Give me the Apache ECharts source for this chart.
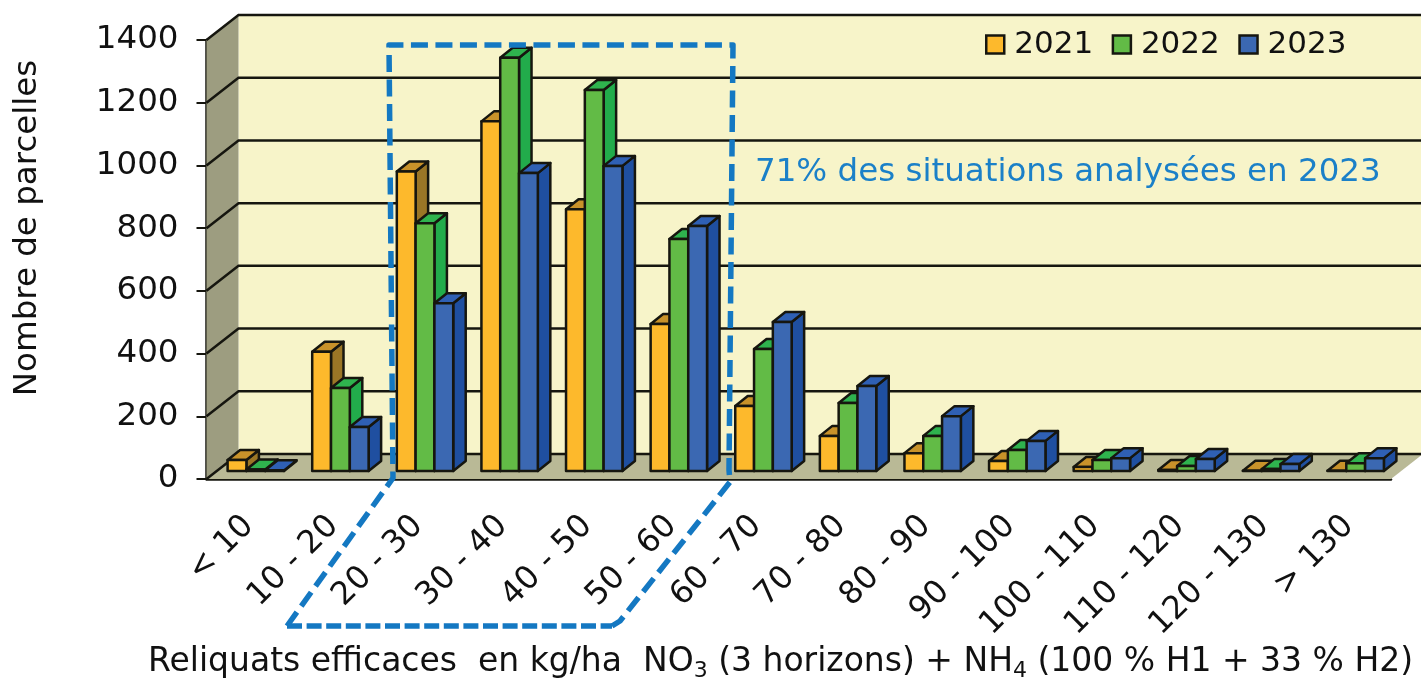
<!DOCTYPE html>
<html>
<head>
<meta charset="utf-8">
<title>Reliquats efficaces</title>
<script src="https://cdn.jsdelivr.net/npm/echarts@6/dist/echarts.min.js"></script>
<style>
  html, body { margin: 0; padding: 0; background: #fff; }
  #chart { width: 1421px; height: 679px; }
</style>
</head>
<body>
<div id="chart"></div>
<script>
const categories = ['< 10', '10 - 20', '20 - 30', '30 - 40', '40 - 50', '50 - 60', '60 - 70',
  '70 - 80', '80 - 90', '90 - 100', '100 - 110', '110 - 120', '120 - 130', '> 130']
const values2021 = [35, 380, 955, 1115, 835, 469, 207, 112, 57, 32, 13, 3, 1, 1]
const values2022 = [5, 265, 790, 1318, 1215, 740, 389, 217, 112, 67, 35, 16, 6, 25]
const values2023 = [2, 140, 535, 950, 973, 781, 475, 271, 175, 96, 41, 38, 22, 41]
const yTicks = [0, 200, 400, 600, 800, 1000, 1200, 1400]

const FONT = '"DejaVu Sans"'
const INK = '#16160f'
const STROKE = 2.5
const BLUE = '#1478c2'
// profondeur de la "3D" : mur du fond et barres
const WALL_DX = 32
const WALL_DY = -25
const BAR_W = 18.8
const BAR_DX = 12.5
const BAR_DY = -10
const BASE_DX = 7
const BASE_DY = -8

function poly(points, fill) {
  return {
    type: 'polygon',
    shape: { points },
    style: { fill, stroke: INK, lineWidth: STROKE, lineJoin: 'round' }
  }
}

function renderWall(params, api) {
  const rect = params.coordSys
  const y = api.coord([0, api.value(1)])[1]
  const left = rect.x
  const right = rect.x + rect.width
  const children = []
  if (params.dataIndex === 0) {
    const top = rect.y
    const bottom = rect.y + rect.height
    children.push({
      type: 'polygon',
      shape: { points: [[left + WALL_DX, top + WALL_DY], [right + WALL_DX, top + WALL_DY], [right + WALL_DX, bottom + WALL_DY], [left + WALL_DX, bottom + WALL_DY]] },
      style: { fill: '#f7f4c9' }
    })
    children.push({
      type: 'polygon',
      shape: { points: [[left, top], [left + WALL_DX, top + WALL_DY], [left + WALL_DX, bottom + WALL_DY], [left, bottom]] },
      style: { fill: '#9d9d80' }
    })
    children.push({
      type: 'polygon',
      shape: { points: [[left, bottom], [left + WALL_DX, bottom + WALL_DY], [right + WALL_DX, bottom + WALL_DY], [right, bottom]] },
      style: { fill: '#b9b996' }
    })
  }
  children.push({
    type: 'polyline',
    shape: { points: [[left, y], [left + WALL_DX, y + WALL_DY], [right + WALL_DX, y + WALL_DY]] },
    style: { stroke: INK, lineWidth: STROKE, fill: null }
  })
  return { type: 'group', children }
}

function makeBarRenderer(index, front, top, side) {
  return function (params, api) {
    const cat = api.value(0)
    const base = api.coord([cat, 0])
    const head = api.coord([cat, api.value(1)])
    const x0 = base[0] - 1.5 * BAR_W + index * BAR_W + BASE_DX
    const x1 = x0 + BAR_W
    const yb = base[1] + BASE_DY
    const yt = head[1] + BASE_DY
    return {
      type: 'group',
      children: [
        poly([[x1, yb], [x1 + BAR_DX, yb + BAR_DY], [x1 + BAR_DX, yt + BAR_DY], [x1, yt]], side),
        poly([[x0, yt], [x0 + BAR_DX, yt + BAR_DY], [x1 + BAR_DX, yt + BAR_DY], [x1, yt]], top),
        poly([[x0, yb], [x1, yb], [x1, yt], [x0, yt]], front)
      ]
    }
  }
}

function yearSeries(name, values, index, front, top, side) {
  return {
    name,
    type: 'custom',
    coordinateSystem: 'cartesian2d',
    renderItem: makeBarRenderer(index, front, top, side),
    encode: { x: 0, y: 1 },
    itemStyle: { color: front },
    data: values.map((v, i) => [i, v]),
    z: 3
  }
}

const chart = echarts.init(document.getElementById('chart'))
chart.setOption({
  animation: false,
  backgroundColor: '#fff',
  textStyle: { fontFamily: FONT },
  grid: { left: 206.5, right: 30, top: 40, bottom: 200, outerBoundsMode: 'none' },
  legend: {
    data: ['2021', '2022', '2023'],
    left: 980,
    top: 24,
    icon: 'rect',
    itemWidth: 18,
    itemHeight: 18,
    itemGap: 18.5,
    itemStyle: { borderColor: INK, borderWidth: 2.5 },
    textStyle: { fontFamily: FONT, fontSize: 31, color: '#111', padding: [0, 0, 0, 5] }
  },
  xAxis: {
    type: 'category',
    data: categories,
    axisLine: { lineStyle: { color: INK, width: STROKE } },
    axisTick: { length: 11, lineStyle: { color: INK, width: 2 } },
    axisLabel: { rotate: 45, interval: 0, fontFamily: FONT, fontSize: 32, color: '#111', margin: 42 }
  },
  yAxis: {
    type: 'value',
    min: 0,
    max: 1400,
    interval: 200,
    splitLine: { show: false },
    axisLine: { show: true, lineStyle: { color: INK, width: STROKE } },
    axisTick: { show: true, length: 10, lineStyle: { color: INK, width: 2 } },
    axisLabel: { fontFamily: FONT, fontSize: 32.5, color: '#111', margin: 28, padding: [8, 0, 0, 0], formatter: v => String(v) }
  },
  series: [
    {
      name: 'murs',
      type: 'custom',
      coordinateSystem: 'cartesian2d',
      renderItem: renderWall,
      encode: { x: 0, y: 1 },
      silent: true,
      data: yTicks.map(t => [0, t]),
      z: 1
    },
    yearSeries('2021', values2021, 0, '#fdb92c', '#c8922a', '#9a7626'),
    yearSeries('2022', values2022, 1, '#62bb46', '#2fb34e', '#22ac4b'),
    yearSeries('2023', values2023, 2, '#3b68b2', '#2f60b4', '#1f4fa0')
  ],
  graphic: [
    {
      type: 'polyline',
      z: 100,
      silent: true,
      shape: { points: [[287, 626], [393, 478], [389, 45], [733, 45], [729, 470], [730, 482], [620, 621], [612, 626]] },
      style: { stroke: BLUE, lineWidth: 5.5, lineDash: [17, 7.5], fill: null, lineJoin: 'round' }
    },
    {
      type: 'line',
      z: 100,
      silent: true,
      shape: { x1: 287, y1: 626, x2: 612, y2: 626 },
      style: { stroke: BLUE, lineWidth: 5.5, lineDash: [15, 4.6] }
    },
    {
      type: 'text',
      z: 100,
      silent: true,
      x: 755,
      y: 173,
      style: { text: '71% des situations analysées en 2023', fontFamily: FONT, fontSize: 32.5, fill: '#1b80c8', verticalAlign: 'middle' }
    },
    {
      type: 'text',
      z: 100,
      silent: true,
      x: 28,
      y: 228,
      rotation: Math.PI / 2,
      style: { text: 'Nombre de parcelles', fontFamily: FONT, fontSize: 32.5, fill: '#111', align: 'center', verticalAlign: 'middle' }
    },
    {
      type: 'text',
      z: 100,
      silent: true,
      x: 148,
      y: 662,
      style: {
        text: '{m|Reliquats efficaces  en kg/ha  NO}{s|3}{m| (3 horizons) + NH}{s|4}{m| (100 % H1 + 33 % H2)}',
        verticalAlign: 'middle',
        rich: {
          m: { fontFamily: FONT, fontSize: 33, fill: '#111', lineHeight: 40 },
          s: { fontFamily: FONT, fontSize: 22, fill: '#111', lineHeight: 36, verticalAlign: 'bottom' }
        }
      }
    }
  ]
})
</script>
</body>
</html>
